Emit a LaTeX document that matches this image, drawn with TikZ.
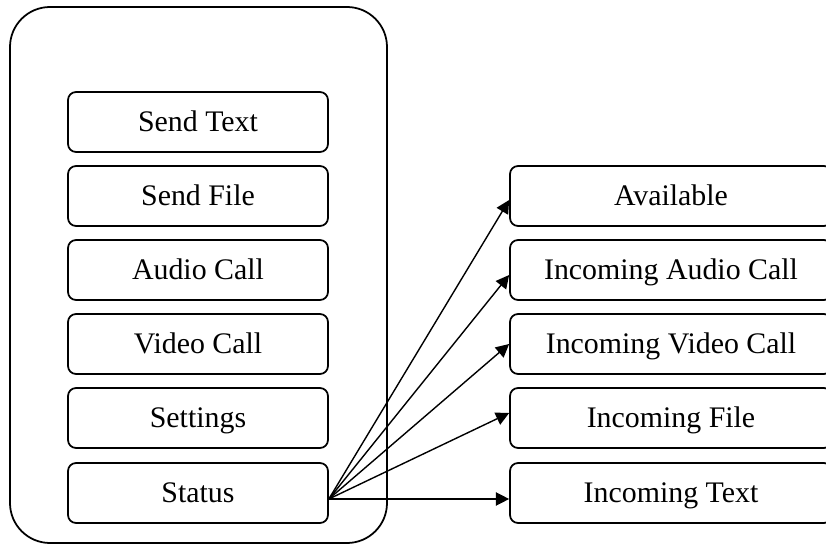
\documentclass[tikz,border=0pt]{standalone}
\usepackage{fontspec}
\setmainfont{Liberation Serif}
\usetikzlibrary{arrows.meta}

\begin{document}
\begin{tikzpicture}[x=0.02cm,y=-0.02cm]
    \pgfmathsetmacro{\menuwidth}{5.2}
    \pgfmathsetmacro{\eventwidth}{6.44}
    \pgfmathsetmacro{\boxheight}{1.2}
    \providecommand{\boxfontsize}{\fontsize{17}{20}\selectfont}
    \tikzset{
        item/.style={draw,line width=1pt,rounded corners=1.6mm,minimum height=\boxheight cm,inner sep=0,text height=11.3pt,text depth=0pt,font=\boxfontsize},
        arr/.style={line width=0.8pt,-{Triangle[length=7.5pt,width=7.5pt]}}
    }
    \useasboundingbox (0,0) rectangle (826,544);
    \clip (0,0) rectangle (826,544);
    % the client window
    \draw[line width=1pt,rounded corners=8mm] (10,7) rectangle (387,543);
    \foreach \name/\label/\ypos in {sendtext/Send Text/122,sendfile/Send File/196,audiocall/Audio Call/270,videocall/Video Call/344,settings/Settings/418,status/Status/493}
        \node[item,minimum width=\menuwidth cm](\name) at (198,\ypos){\label};
    % status events
    \foreach \name/\label/\ypos in {available/Available/196,inaudio/Incoming Audio Call/270,invideo/Incoming Video Call/344,infile/Incoming File/418,intext/Incoming Text/493}
        \node[item,minimum width=\eventwidth cm](\name) at (671,\ypos){\label};
    \coordinate (src) at ([yshift=-0.12cm]status.east);
    \draw[arr] (src) -- ([yshift=-0.08cm]available.west);
    \draw[arr] (src) -- ([yshift=-0.1cm]inaudio.west);
    \draw[arr] (src) -- (invideo.west);
    \draw[arr] (src) -- ([yshift=0.1cm]infile.west);
    \draw[arr] (src) -- ([yshift=-0.12cm]intext.west);
\end{tikzpicture}
\end{document}
